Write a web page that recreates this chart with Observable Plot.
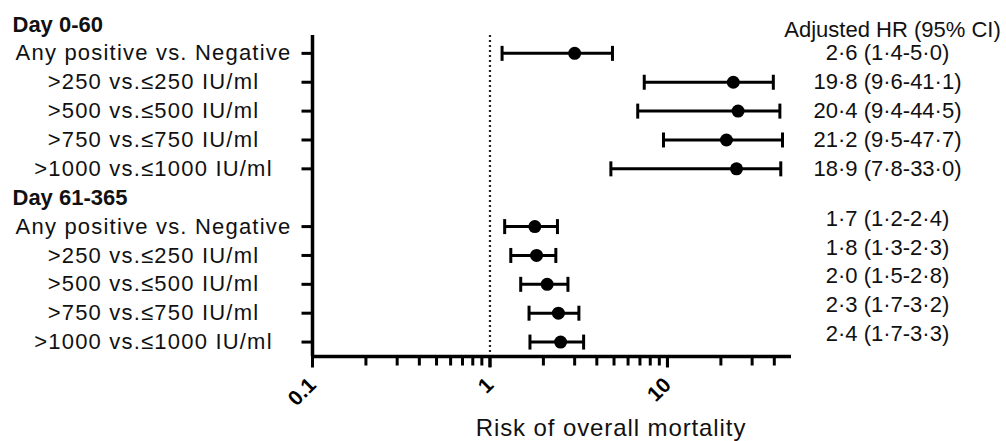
<!DOCTYPE html>
<html><head><meta charset="utf-8">
<script src="https://cdn.jsdelivr.net/npm/d3@7"></script>
<script src="https://cdn.jsdelivr.net/npm/@observablehq/plot@0.6"></script>
<style>
body{margin:0;background:#fff;}
#chart svg{font-family:"Liberation Sans",Arial,Helvetica,sans-serif;overflow:visible;}
.rowlab text{letter-spacing:1.2px;}
.xlab text{letter-spacing:0.9px;}
</style></head><body><div id="chart"></div>
<script>
// ---- data ----
const groups = ["Day 0-60", "Day 61-365"];
const comparisons = ["Any positive vs. Negative", ">250 vs.≤250 IU/ml", ">500 vs.≤500 IU/ml", ">750 vs.≤750 IU/ml", ">1000 vs.≤1000 IU/ml"];
// plotted point estimates and CI limits
const hrEarly = [3.0, 23.5, 25.0, 21.5, 24.5];
const loEarly = [1.17, 7.4, 6.8, 9.5, 4.8];
const hiEarly = [4.9, 39.5, 43.0, 44.5, 43.5];
const hrLate = [1.79, 1.83, 2.1, 2.43, 2.5];
const loLate = [1.21, 1.31, 1.49, 1.66, 1.68];
const hiLate = [2.4, 2.35, 2.75, 3.17, 3.37];
// printed labels
const hrTextEarly = ["2·6 (1·4-5·0)", "19·8 (9·6-41·1)", "20·4 (9·4-44·5)", "21·2 (9·5-47·7)", "18·9 (7·8-33·0)"];
const hrTextLate = ["1·7 (1·2-2·4)", "1·8 (1·3-2·3)", "2·0 (1·5-2·8)", "2·3 (1·7-3·2)", "2·4 (1·7-3·3)"];
const hrHeader = "Adjusted HR (95% CI)";
const xLabel = "Risk of overall mortality";
const majorTicks = [0.1, 1, 10];
const majorTickLabels = ["0.1", "1", "10"];
const minorTicks = [0.2, 0.3, 0.4, 0.5, 0.6, 0.7, 0.8, 0.9, 2, 3, 4, 5, 6, 7, 8, 9, 20, 30, 40];
const xDomain = [0.1, 50];
const yDomain = [0.381, 11.5];

// ---- table ----
const series = [
  {hr: hrEarly, lo: loEarly, hi: hiEarly, txt: hrTextEarly},
  {hr: hrLate, lo: loLate, hi: hiLate, txt: hrTextLate}
];
const headers = groups.map((g, gi) => ({label: g, slot: gi * 6}));
const rows = [];
series.forEach((s, gi) => comparisons.forEach((c, i) => rows.push({
  group: gi, label: c, slot: gi * 6 + i + 1, hr: s.hr[i], lo: s.lo[i], hi: s.hi[i], txt: s.txt[i]
})));

// symbols: vertical cap, left-pointing y tick, down-pointing x tick
const capSymbol = {draw(ctx, size) { const h = Math.sqrt(size / Math.PI); ctx.moveTo(0, -h); ctx.lineTo(0, h); }};
const leftTick = {draw(ctx, size) { const h = Math.sqrt(size / Math.PI); ctx.moveTo(-h, 0); ctx.lineTo(0, 0); }};
const downTick = {draw(ctx, size) { const h = Math.sqrt(size / Math.PI); ctx.moveTo(0, 0); ctx.lineTo(0, h); }};

const chart = Plot.plot({
  width: 1006, height: 441,
  marginLeft: 312, marginRight: 215, marginTop: 35, marginBottom: 85,
  x: {type: "log", domain: xDomain, label: null},
  y: {domain: yDomain, reverse: true, label: null, axis: null},
  style: {fontFamily: "Liberation Sans, Arial, sans-serif", color: "black", background: "white"},
  marks: [
    Plot.ruleX([1], {stroke: "#222", strokeWidth: 2.2, strokeDasharray: "2 3"}),
    Plot.axisX({ticks: majorTicks, tickSize: 11, tickRotate: -45, tickPadding: 14,
      tickFormat: d => majorTickLabels[majorTicks.indexOf(d)], fontSize: 21, fontWeight: "bold", label: null, strokeWidth: 3}),
    Plot.dot(rows, {x: () => xDomain[0], y: "slot", symbol: leftTick, r: 11, stroke: "black", fill: "none", strokeWidth: 3}),
    Plot.dot(minorTicks, {x: d => d, y: () => yDomain[1], symbol: downTick, r: 9, stroke: "black", fill: "none", strokeWidth: 3}),
    Plot.dot(majorTicks, {x: d => d, y: () => yDomain[1], symbol: downTick, r: 11, stroke: "black", fill: "none", strokeWidth: 3}),
    Plot.ruleX([xDomain[0]], {strokeWidth: 3.5}),
    Plot.ruleY([yDomain[1]], {strokeWidth: 3.5}),
    Plot.ruleY(rows, {y: "slot", x1: "lo", x2: "hi", strokeWidth: 3}),
    Plot.dot(rows, {x: "lo", y: "slot", symbol: capSymbol, r: 7.5, stroke: "black", fill: "none", strokeWidth: 3}),
    Plot.dot(rows, {x: "hi", y: "slot", symbol: capSymbol, r: 7.5, stroke: "black", fill: "none", strokeWidth: 3}),
    Plot.dot(rows, {x: "hr", y: "slot", r: 6.5, fill: "black"}),
    Plot.text(headers, {y: "slot", text: "label", frameAnchor: "left", dx: -300, textAnchor: "start", fontSize: 22, fontWeight: "bold", fill: "#111"}),
    Plot.text(rows, {y: "slot", text: "label", frameAnchor: "left", dx: -159, textAnchor: "middle", fontSize: 22, fill: "#111", className: "rowlab"}),
    Plot.text(rows.filter(r => r.group === 0), {y: "slot", text: "txt", frameAnchor: "right", dx: 96, textAnchor: "middle", fontSize: 22, fill: "#111"}),
    Plot.text(rows.filter(r => r.group === 1), {y: "slot", text: "txt", frameAnchor: "right", dx: 96, dy: -8, textAnchor: "middle", fontSize: 22, fill: "#111"}),
    Plot.text([hrHeader], {frameAnchor: "top-right", dx: 101, dy: -14, textAnchor: "middle", fontSize: 22, fill: "#111"}),
    Plot.text([xLabel], {frameAnchor: "bottom", dx: 59, dy: 79, textAnchor: "middle", fontSize: 24, fill: "#111", className: "xlab"})
  ]
});
document.getElementById("chart").appendChild(chart);
</script></body></html>
